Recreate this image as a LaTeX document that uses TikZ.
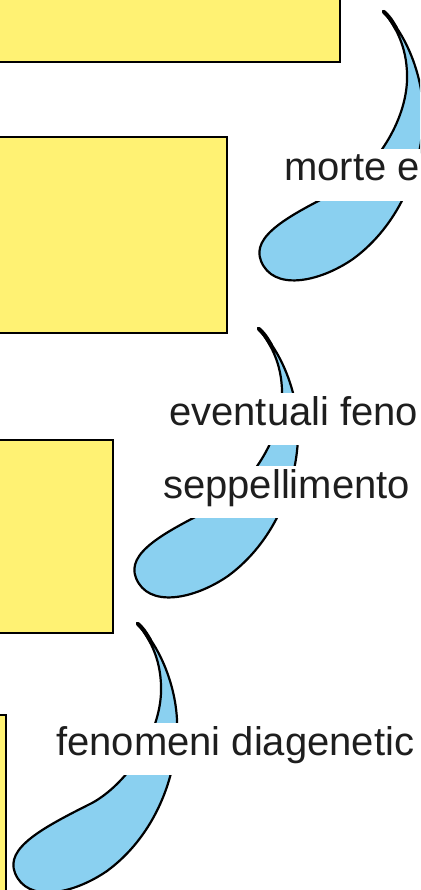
\documentclass[tikz,border=0pt]{standalone}
\usepackage{fontspec}
\setmainfont{Liberation Sans}
\definecolor{boxyellow}{RGB}{255,242,115}
\definecolor{arrowblue}{RGB}{138,208,240}
\definecolor{textgray}{RGB}{30,30,30}
\tikzset{
  boxshape/.style={fill=boxyellow, draw=black, line width=2.4pt},
  arrowshape/.style={fill=arrowblue, draw=black, line width=2.2pt, line join=round},
  tipstroke/.style={draw=black, line width=4pt, line cap=round},
  lbl/.style={fill=white, anchor=base west, inner xsep=1pt, inner ysep=4pt,
    text height=28pt, text depth=16pt, font=\fontsize{40}{48}\selectfont, text=textgray},
  crescent/.pic={
    \path[arrowshape] (0,0) .. controls (25,25) and (42,70) .. (40,110)
      .. controls (38,160) and (15,215) .. (-30,248)
      .. controls (-65,272) and (-110,280) .. (-122,250)
      .. controls (-132,225) and (-95,205) .. (-45,180)
      .. controls (-12,162) and (22,115) .. (24,70)
      .. controls (25,40) and (15,18) .. (0,0) -- cycle;
    \path[tipstroke] (1,1) .. controls (7,7) .. (13,17);
  }
}
\begin{document}
\begin{tikzpicture}[x=1pt,y=-1pt]
\useasboundingbox (0,0) rectangle (420,890);
\clip (0,0) rectangle (420,890);
% boxes
\draw[boxshape] (-5,-5) rectangle (340,62);
\draw[boxshape] (-5,137) rectangle (227,333);
\draw[boxshape] (-5,440) rectangle (113,633);
\draw[boxshape] (-5,715) rectangle (6,900);
% arrows
\pic (a1) at (383,11) {crescent};
\pic (a2) at (258,328) {crescent};
\pic (a3) at (137,623) {crescent};
% labels
\node[lbl] (t1) at (283,181) {morte e};
\node[lbl] (t2) at (168,425) {eventuali feno};
\node[lbl] (t3) at (162,498) {seppellimento};
\node[lbl] (t4) at (55,755) {fenomeni diagenetic};
\end{tikzpicture}
\end{document}
